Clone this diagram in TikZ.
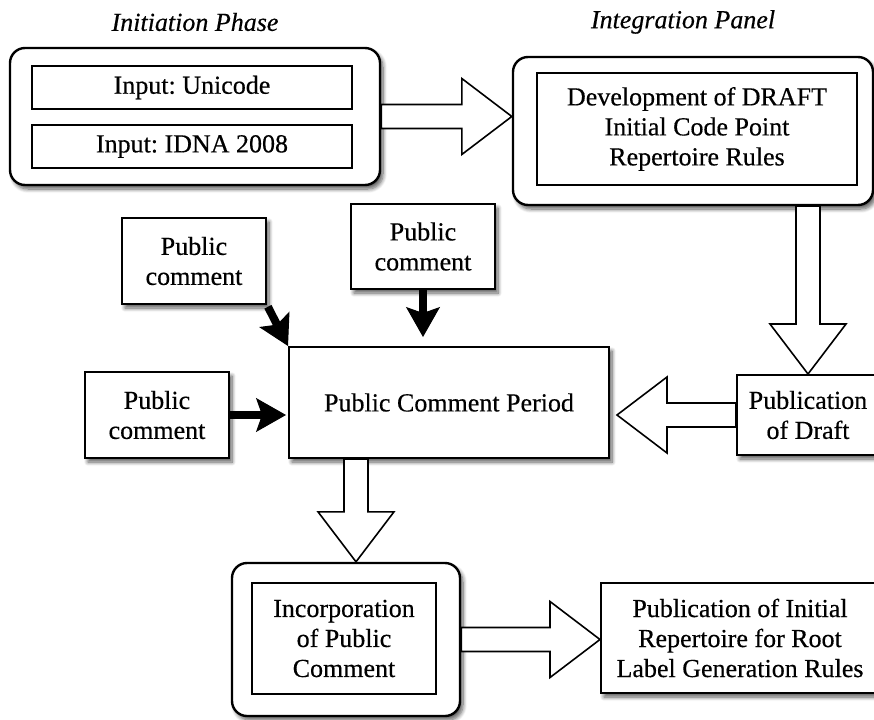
\documentclass[tikz,border=0pt]{standalone}
\usepackage{fontspec}
\setmainfont{Liberation Serif}[RawFeature={embolden=0.4}]
\usetikzlibrary{arrows.meta,calc,shadows.blur}
\frenchspacing

% hollow block arrow from #1 to the tip #2
\newcommand{\blockarrow}[2]{%
  \path (#1) coordinate (ba-s) (#2) coordinate (ba-t)
        ($(ba-t)!50pt!(ba-s)$) coordinate (ba-b);
  \draw[hollow] ($(ba-s)!12pt!90:(ba-t)$) -- ($(ba-b)!12pt!-90:(ba-s)$)
    -- ($(ba-b)!38pt!-90:(ba-s)$) -- (ba-t) -- ($(ba-b)!38pt!90:(ba-s)$)
    -- ($(ba-b)!12pt!90:(ba-s)$) -- ($(ba-s)!12pt!-90:(ba-t)$) -- cycle;
}

\begin{document}
\begin{tikzpicture}[x=1pt, y=-1pt,
  shadowed/.style={blur shadow={shadow xshift=3pt, shadow yshift=-4pt,
    shadow blur radius=4pt, shadow blur steps=8, shadow opacity=65}},
  box/.style={draw, line width=2pt, fill=white, inner sep=0pt, align=center,
    font=\fontsize{26}{30}\selectfont},
  roundbox/.style={draw, line width=2.4pt, fill=white, rounded corners=15pt, shadowed},
  hollow/.style={draw, line width=1.6pt, fill=white, line join=miter},
  push/.style={line width=8pt, -{Stealth[length=30pt, width=34pt, inset=6pt, line width=1pt]}},
  phase/.style={font=\fontsize{26}{30}\selectfont\itshape}]
\useasboundingbox (0,0) rectangle (874,719);

%%%%% Titles %%%%%
\node[phase] (tinit) at (195,22) {Initiation Phase};
\node[phase] (tinteg) at (683,22) {Integration Panel};

%%%%% Panels %%%%%
\node[roundbox, minimum width=370pt, minimum height=137pt] (init) at (195,116.5) {};
\node[box, minimum width=320pt, minimum height=43pt] (uni) at (192,87.5) {Input: Unicode};
\node[box, minimum width=320pt, minimum height=43pt] (idna) at (192,146.5) {Input: IDNA 2008};

\node[roundbox, minimum width=360pt, minimum height=148pt] (integ) at (693,131) {};
\node[box, minimum width=320pt, minimum height=112pt] (dev) at (697,129)
  {Development of DRAFT\\Initial Code Point\\Repertoire Rules};

%%%%% Comment period %%%%%
\node[box, shadowed, minimum width=144pt, minimum height=86pt] (pc1) at (194,261) {Public\\comment};
\node[box, shadowed, minimum width=144pt, minimum height=85pt] (pc2) at (423,246.5) {Public\\comment};
\node[box, shadowed, minimum width=144pt, minimum height=86pt] (pc3) at (157,415) {Public\\comment};
\node[box, shadowed, minimum width=320pt, minimum height=111pt] (pcp) at (449,402.5) {Public Comment Period};
\node[box, shadowed, minimum width=142pt, minimum height=80pt] (pubdraft) at (808,415) {Publication\\of Draft};

%%%%% Bottom row %%%%%
\node[roundbox, minimum width=228pt, minimum height=153pt] (incorp) at (346,639.5) {};
\node[box, minimum width=184pt, minimum height=111pt] (incin) at (344,638.5) {Incorporation\\of Public\\Comment};
\node[box, shadowed, minimum width=278pt, minimum height=110pt] (final) at (740,638)
  {Publication of Initial\\Repertoire for Root\\Label Generation Rules};

%%%%% Block arrows %%%%%
\blockarrow{init.east}{init.east -| integ.west}
\blockarrow{integ.south -| pubdraft.north}{pubdraft.north}
\blockarrow{pubdraft.west}{$(pubdraft.west -| pcp.east)+(7,0)$}
\blockarrow{$(pcp.south -| incorp.north)+(10,0)$}{$(incorp.north)+(10,0)$}
\blockarrow{incorp.east}{incorp.east -| final.west}

%%%%% Comment arrows %%%%%
\draw[push, shorten >=9pt] (pc2.south) -- (pc2.south |- pcp.north);
\draw[push, shorten >=2pt] (pc3.east) -- (pc3.east -| pcp.west);
\draw[push, shorten <=2pt] (pc1.south east) -- (pcp.north west);
\end{tikzpicture}
\end{document}
